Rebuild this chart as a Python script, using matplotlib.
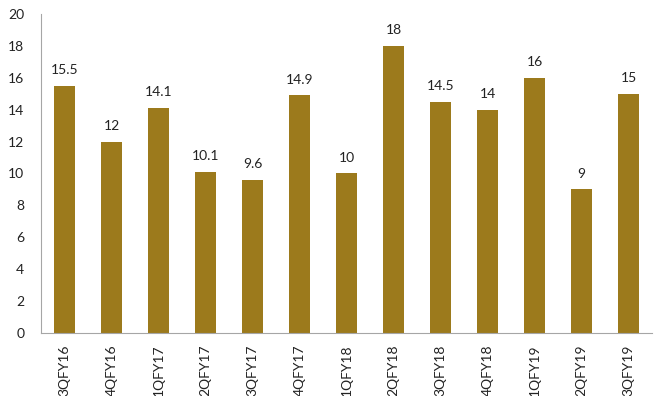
import matplotlib.pyplot as plt

quarters = ['3QFY16', '4QFY16', '1QFY17', '2QFY17', '3QFY17', '4QFY17', '1QFY18',
            '2QFY18', '3QFY18', '4QFY18', '1QFY19', '2QFY19', '3QFY19']
values = [15.5, 12, 14.1, 10.1, 9.6, 14.9, 10, 18, 14.5, 14, 16, 9, 15]
labels = ['15.5', '12', '14.1', '10.1', '9.6', '14.9', '10', '18', '14.5', '14', '16', '9', '15']

plt.rcParams['font.family'] = ['Lato', 'DejaVu Sans']

fig = plt.figure(figsize=(6.62, 3.96), dpi=100)
ax = fig.add_axes([0.062, 0.159, 0.923, 0.806])

x = range(len(quarters))
bars = ax.bar(x, values, width=0.43, color='#9C7A1C')
for xi, v, lab in zip(x, values, labels):
    ax.text(xi, v + 0.6, lab, ha='center', va='bottom', fontsize=10, color='#222222')

ax.set_xlim(-0.5, len(quarters) - 0.5)
ax.set_ylim(0, 20)
ax.set_yticks(range(0, 21, 2))
ax.set_xticks(list(x))
ax.set_xticklabels(quarters, rotation=90, fontsize=10)
ax.tick_params(axis='both', length=0, labelsize=10, colors='#222222')
ax.tick_params(axis='y', pad=12)
ax.tick_params(axis='x', pad=8)

for s in ['top', 'right']:
    ax.spines[s].set_visible(False)
for s in ['left', 'bottom']:
    ax.spines[s].set_color('#a6a6a6')

fig.savefig('out.png', dpi=100)
